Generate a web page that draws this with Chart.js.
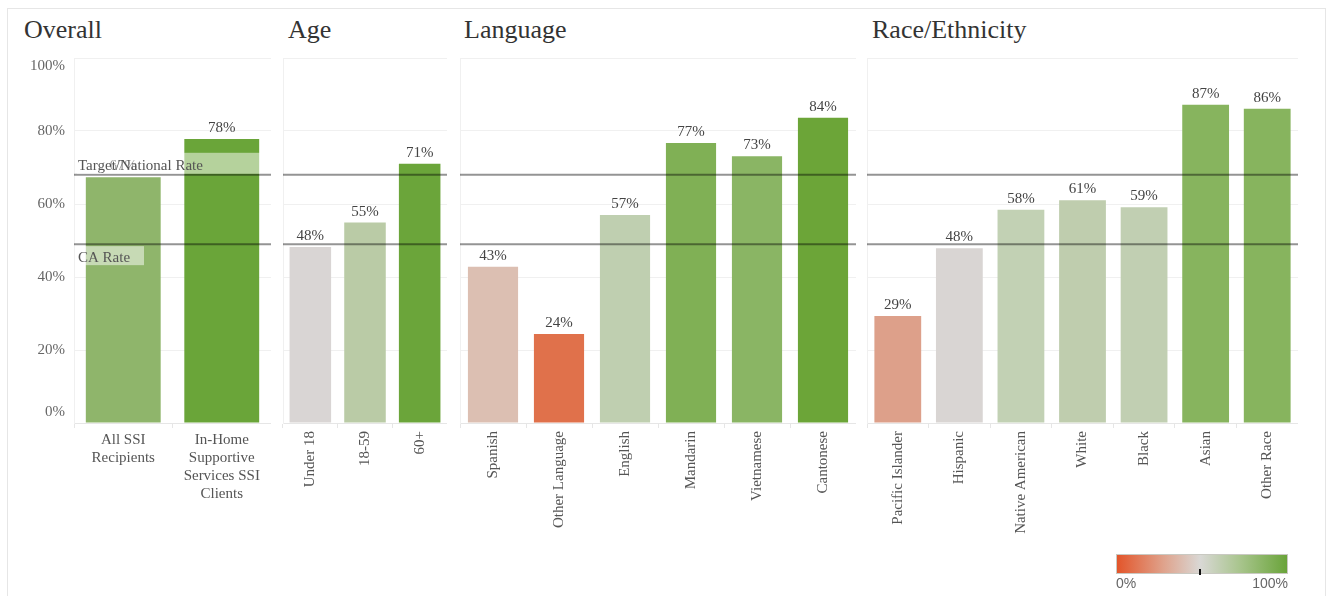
<!DOCTYPE html>
<html>
<head>
  <meta charset="utf-8">
  <title>SSI enrollment rates</title>
  <script src="https://cdn.jsdelivr.net/npm/chart.js@4.4.0/dist/chart.umd.min.js"></script>
  <style>
    body {
      margin: 0;
      width: 1328px;
      height: 596px;
      overflow: hidden;
      background: #fff;
      font-family: "Liberation Serif", "Times New Roman", serif;
    }
    .frame {
      position: absolute;
      left: 7px;
      top: 8px;
      width: 1317px;
      height: 620px;
      border: 1px solid #e6e6e6;
    }
    .title {
      position: absolute;
      top: 17px;
      font-size: 26px;
      line-height: 26px;
      color: #333;
    }
    canvas {
      position: absolute;
      top: 50px;
    }
    .legend-bar {
      position: absolute;
      left: 1116px;
      top: 554px;
      width: 170px;
      height: 18px;
      border: 1px solid #c9c9c2;
      background: linear-gradient(to right, #e3552a 0%, #dfa48e 28%, #d9d8d5 49%, #a9c58e 72%, #6aa43a 100%);
    }
    .legend-mark {
      position: absolute;
      left: 1199px;
      top: 569px;
      width: 2px;
      height: 6px;
      background: #111;
    }
    .legend-text {
      position: absolute;
      top: 576px;
      font-family: "Liberation Sans", Arial, sans-serif;
      font-size: 14px;
      line-height: 15px;
      color: #666;
    }
  </style>
</head>
<body>
  <div class="frame"></div>

  <div class="title" style="left:24px">Overall</div>
  <div class="title" style="left:288px">Age</div>
  <div class="title" style="left:464px">Language</div>
  <div class="title" style="left:872px">Race/Ethnicity</div>

  <canvas id="overall" width="263" height="546" style="left:8px"></canvas>
  <canvas id="age" width="166" height="546" style="left:281px"></canvas>
  <canvas id="language" width="398" height="546" style="left:458px"></canvas>
  <canvas id="race" width="433" height="546" style="left:865px"></canvas>

  <div class="legend-bar"></div>
  <div class="legend-mark"></div>
  <div class="legend-text" style="left:1116px">0%</div>
  <div class="legend-text" style="left:1238px;width:50px;text-align:right">100%</div>

  <script>
    // Data
    const overallLabels = [['All SSI', 'Recipients'], ['In-Home', 'Supportive', 'Services SSI', 'Clients']];
    const overallValues = [67.3, 77.8];
    const overallColors = ['#8fb56b', '#6aa539'];

    const ageLabels = ['Under 18', '18-59', '60+'];
    const ageValues = [48.2, 54.9, 71.0];
    const ageColors = ['#d9d5d4', '#bacba6', '#6ba53a'];

    const languageLabels = ['Spanish', 'Other Language', 'English', 'Mandarin', 'Vietnamese', 'Cantonese'];
    const languageValues = [42.8, 24.4, 57.0, 76.7, 73.1, 83.6];
    const languageColors = ['#dcbfb2', '#e0714b', '#bfcfb0', '#80b055', '#8ab564', '#6ca538'];

    const raceLabels = ['Pacific Islander', 'Hispanic', 'Native American', 'White', 'Black', 'Asian', 'Other Race'];
    const raceValues = [29.3, 47.9, 58.4, 61.0, 59.1, 87.2, 86.1];
    const raceColors = ['#dda08a', '#d9d5d3', '#c2d1b4', '#bfcdae', '#c1cfb2', '#87b45e', '#87b45e'];

    const yTicks = [0, 20, 40, 60, 80, 100];
    const targetRate = 68;
    const caRate = 49;

    Chart.defaults.font.family = "'Liberation Serif', 'Times New Roman', serif";
    Chart.defaults.font.size = 15;

    /**
     * Value labels above each bar
     */
    const valueLabels = {
      id: 'valueLabels',
      afterDatasetsDraw(chart) {
        const { ctx } = chart;
        const meta = chart.getDatasetMeta(0);
        const values = chart.data.datasets[0].data;
        ctx.save();
        ctx.font = "15px 'Liberation Serif', serif";
        ctx.fillStyle = '#444';
        ctx.textAlign = 'center';
        ctx.textBaseline = 'alphabetic';
        meta.data.forEach((bar, i) => {
          ctx.fillText(Math.round(values[i]) + '%', bar.x, bar.y - 7);
        });
        ctx.restore();
      }
    };

    /**
     * Target and CA reference lines across every panel
     */
    const refLines = {
      id: 'refLines',
      afterDatasetsDraw(chart) {
        const { ctx, chartArea, scales } = chart;
        ctx.save();
        ctx.strokeStyle = 'rgba(0, 0, 0, 0.42)';
        ctx.lineWidth = 2;
        [targetRate, caRate].forEach(v => {
          const y = scales.y.getPixelForValue(v);
          ctx.beginPath();
          ctx.moveTo(chartArea.left, y);
          ctx.lineTo(chartArea.right, y);
          ctx.stroke();
        });
        ctx.restore();
      }
    };

    /**
     * Reference line captions (Overall panel only)
     */
    const rateCaptions = {
      id: 'rateCaptions',
      afterDatasetsDraw(chart) {
        const { ctx, chartArea, scales } = chart;
        const x0 = chartArea.left + 3;
        const yTarget = scales.y.getPixelForValue(targetRate);
        const yCa = scales.y.getPixelForValue(caRate);
        ctx.save();
        ctx.fillStyle = 'rgba(255, 255, 255, 0.5)';
        ctx.fillRect(x0, yTarget - 22, 183, 21);
        ctx.fillRect(x0, yCa + 2, 67, 19);
        ctx.font = "15px 'Liberation Serif', serif";
        ctx.fillStyle = '#555';
        ctx.textAlign = 'left';
        ctx.fillText('Target/National Rate', x0 + 1, yTarget - 5);
        ctx.fillText('CA Rate', x0 + 1, yCa + 18);
        ctx.restore();
      }
    };

    /**
     * Y tick labels, end labels pulled inside the plot like the original
     */
    const yTickLabels = {
      id: 'yTickLabels',
      afterDraw(chart) {
        const { ctx, chartArea, scales } = chart;
        ctx.save();
        ctx.font = "15px 'Liberation Serif', serif";
        ctx.fillStyle = '#666';
        ctx.textAlign = 'right';
        ctx.textBaseline = 'middle';
        yTicks.forEach(v => {
          let y = scales.y.getPixelForValue(v);
          y = Math.min(Math.max(y, chartArea.top + 8), chartArea.bottom - 11);
          ctx.fillText(v + '%', chartArea.left - 9, y);
        });
        ctx.restore();
      }
    };

    function makePanel(id, labels, values, colors, yWidth, rotated, extraPlugins) {
      return new Chart(document.getElementById(id), {
        type: 'bar',
        data: {
          labels: labels,
          datasets: [{
            data: values,
            backgroundColor: colors,
            borderWidth: 0,
            barPercentage: 0.76,
            categoryPercentage: 1,
          }]
        },
        options: {
          responsive: false,
          animation: false,
          layout: { padding: { top: 8, left: 0, right: 0, bottom: 0 } },
          plugins: {
            legend: { display: false },
            tooltip: { enabled: false }
          },
          scales: {
            x: {
              grid: {
                display: true,
                drawOnChartArea: false,
                drawTicks: true,
                tickLength: 5,
                color: '#e6e6e6'
              },
              border: { display: true, color: '#e6e6e6' },
              ticks: {
                autoSkip: false,
                minRotation: rotated ? 90 : 0,
                maxRotation: rotated ? 90 : 0,
                padding: 3,
                color: '#555',
                font: { size: 15, lineHeight: 1.2 }
              },
              afterFit: s => { s.height = 173; }
            },
            y: {
              min: 0,
              max: 100,
              ticks: { display: false, stepSize: 20 },
              grid: { color: '#f0f0f0', drawTicks: false },
              border: { display: true, color: '#f0f0f0' },
              afterFit: s => { s.width = yWidth; }
            }
          }
        },
        plugins: [valueLabels, refLines].concat(extraPlugins || [])
      });
    }

    makePanel('overall', overallLabels, overallValues, overallColors, 66, false, [rateCaptions, yTickLabels]);
    makePanel('age', ageLabels, ageValues, ageColors, 2, true);
    makePanel('language', languageLabels, languageValues, languageColors, 2, true);
    makePanel('race', raceLabels, raceValues, raceColors, 2, true);
  </script>
</body>
</html>
